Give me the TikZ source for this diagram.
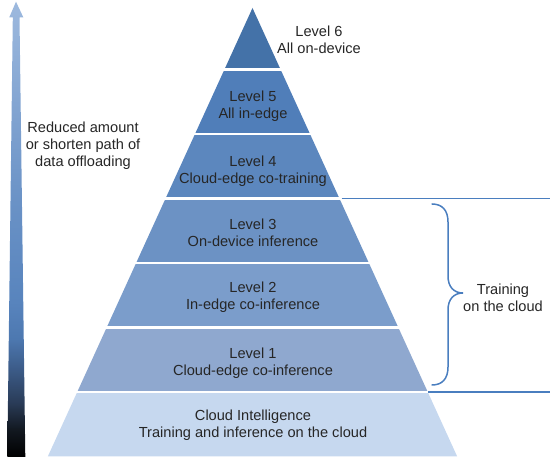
\documentclass[tikz,border=0pt]{standalone}
\usepackage{fontspec}
\setmainfont{Liberation Sans}
\definecolor{txt}{HTML}{262626}
\definecolor{lvsix}{HTML}{4472A8}
\definecolor{lvfive}{HTML}{507EB9}
\definecolor{lvfour}{HTML}{5C87BE}
\definecolor{lvthree}{HTML}{6C92C4}
\definecolor{lvtwo}{HTML}{7B9DCB}
\definecolor{lvone}{HTML}{8FA8CF}
\definecolor{lvcloud}{HTML}{C6D8EF}
\definecolor{lineblue}{HTML}{4A7EBF}
\definecolor{ashA}{HTML}{121820}
\definecolor{ashB}{HTML}{2A3C58}
\definecolor{ashC}{HTML}{3B5A86}
\definecolor{ashD}{HTML}{4D78B0}
\definecolor{ashE}{HTML}{5884BD}
\definecolor{ashF}{HTML}{6A92C6}
\definecolor{ashG}{HTML}{9DB9DE}
\pgfdeclareverticalshading{arrowshade}{100bp}{color(0bp)=(black); color(25bp)=(black); color(28bp)=(ashA); color(31bp)=(ashB); color(34.5bp)=(ashC); color(38bp)=(ashD); color(42bp)=(ashE); color(53bp)=(ashF); color(75bp)=(ashG); color(100bp)=(ashG)}
\begin{document}
\begin{tikzpicture}[x=1pt,y=-1pt,
  lbl/.style={text=txt, align=center, font=\fontsize{14.6}{17}\selectfont, inner sep=0pt},
  conn/.style={draw=lineblue, line width=1.5pt},
  bracestyle/.style={draw=lineblue, line width=1.5pt, line cap=round}]
\useasboundingbox (0,0) rectangle (550,462);
% pyramid
\coordinate (apex) at (252.5,8);
\coordinate (bl) at (47.8,456.5);
\coordinate (br) at (457.2,456.5);
\begin{scope}
\clip (apex) -- (bl) -- (br) -- cycle;
\fill[lvsix] (0,0) rectangle (550,68.3);
\fill[lvfive] (0,70.7) rectangle (550,132.8);
\fill[lvfour] (0,135.2) rectangle (550,197.3);
\fill[lvthree] (0,199.7) rectangle (550,261.8);
\fill[lvtwo] (0,264.2) rectangle (550,326.3);
\fill[lvone] (0,328.7) rectangle (550,390.8);
\fill[lvcloud] (0,393.2) rectangle (550,460);
\end{scope}
% labels
\node[lbl] (l6) at (319,40) {Level 6\\All on-device};
\node[lbl] (l5) at (253,106) {Level 5\\All in-edge};
\node[lbl] (l4) at (253,171) {Level 4\\Cloud-edge co-training};
\node[lbl] (l3) at (253,233) {Level 3\\On-device inference};
\node[lbl] (l2) at (253,297) {Level 2\\In-edge co-inference};
\node[lbl] (l1) at (253,363.5) {Level 1\\Cloud-edge co-inference};
\node[lbl] (lc) at (253,425.5) {Cloud Intelligence\\Training and inference on the cloud};
\node[lbl] (left) at (83,146) {Reduced amount\\or shorten path of\\data offloading};
\node[lbl] (train) at (503,298) {Training\\on the cloud};
% horizontal lines
\coordinate (ha) at (341.5,198.5);
\coordinate (hb) at (550,198.5);
\coordinate (hc) at (428,392);
\coordinate (hd) at (550,392);
\draw[conn] (ha) -- (hb);
\draw[conn] (hc) -- (hd);
% brace
\coordinate (btop) at (432,204);
\coordinate (bmid) at (463,293);
\coordinate (bbot) at (432,385);
\draw[bracestyle] (btop) .. controls (442,204) and (448,210) .. (448,222) -- (448,276)
  .. controls (448,287) and (454,293) .. (bmid)
  .. controls (454,293) and (448,299) .. (448,310) -- (448,367)
  .. controls (448,379) and (442,385) .. (bbot);
% left arrow
\shade[shading=arrowshade] (7.3,457) -- (12.8,17.3) -- (9.3,17.3) -- (16,1.7) -- (23.3,17.3) -- (19.5,17.3) -- (25.3,457) -- cycle;
\end{tikzpicture}
\end{document}
